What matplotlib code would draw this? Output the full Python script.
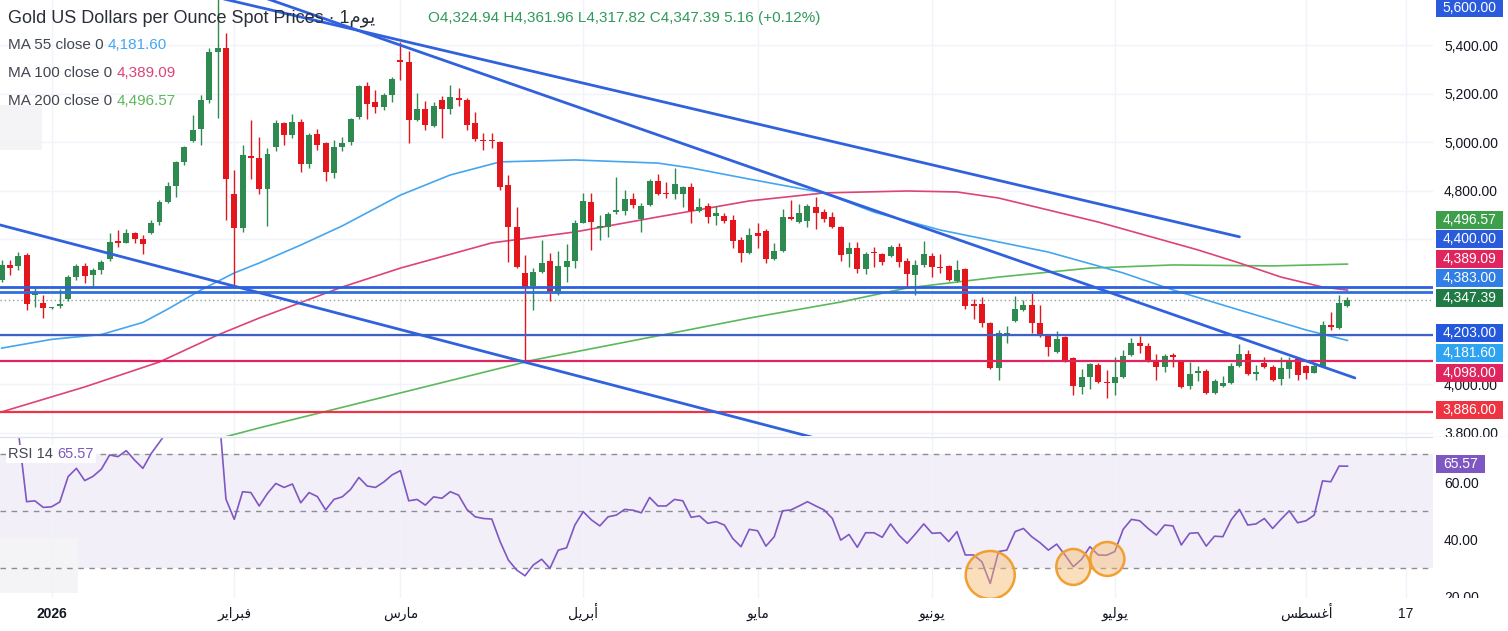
import numpy as np
import matplotlib
matplotlib.use("Agg")
import matplotlib.pyplot as plt
from matplotlib.patches import Rectangle, Ellipse
from matplotlib.lines import Line2D
from matplotlib import transforms

plt.rcParams['font.family'] = ['Liberation Sans', 'DejaVu Sans']

# ---- daily candles ----
opens = [4431, 4493, 4490, 4534, 4368, 4337, 4314, 4324, 4353, 4442,
         4489, 4450, 4472, 4516, 4592, 4585, 4626, 4600, 4623, 4669,
         4754, 4820, 4916, 5006, 5052, 5173, 5370, 5389, 4784, 4647,
         4944, 4933, 4806, 4981, 5080, 5029, 5084, 4909, 5033, 4995,
         4871, 4981, 4999, 5102, 5231, 5165, 5146, 5194, 5338, 5331,
         5091, 5135, 5066, 5173, 5135, 5182, 5173, 5080, 5006, 5006,
         5001, 4823, 4648, 4458, 4408, 4465, 4509, 4373, 4486, 4509,
         4667, 4754, 4647, 4648, 4713, 4716, 4764, 4681, 4740, 4839,
         4791, 4786, 4786, 4816, 4716, 4736, 4695, 4696, 4678, 4596,
         4544, 4623, 4634, 4516, 4552, 4689, 4672, 4676, 4733, 4710,
         4689, 4648, 4538, 4562, 4475, 4548, 4538, 4530, 4568, 4511,
         4452, 4493, 4530, 4486, 4489, 4428, 4475, 4332, 4332, 4255,
         4067, 4200, 4263, 4307, 4328, 4255, 4204, 4135, 4195, 4108,
         3991, 4030, 4080, 4012, 4005, 4032, 4122, 4173, 4159, 4101,
         4074, 4122, 4098, 3994, 4049, 4057, 3966, 3994, 4005, 4076,
         4126, 4045, 4090, 4074, 4021, 4063, 4104, 4076, 4049, 4074,
         4245, 4232, 4324.94]
highs = [4513, 4513, 4548, 4541, 4397, 4369, 4318, 4392, 4452, 4497,
         4500, 4479, 4513, 4623, 4637, 4640, 4630, 4617, 4678, 4761,
         4836, 4923, 4985, 5111, 5194, 5386, 5595, 5448, 4885, 4988,
         5091, 5022, 4974, 5091, 5084, 5114, 5094, 5039, 5054, 5001,
         5008, 5022, 5098, 5235, 5249, 5214, 5203, 5267, 5414, 5375,
         5201, 5171, 5166, 5190, 5235, 5221, 5180, 5122, 5036, 5036,
         5004, 4864, 4733, 4534, 4482, 4596, 4541, 4551, 4579, 4678,
         4791, 4791, 4699, 4713, 4857, 4802, 4791, 4747, 4846, 4867,
         4836, 4891, 4819, 4832, 4768, 4750, 4736, 4706, 4699, 4610,
         4644, 4665, 4640, 4585, 4722, 4761, 4744, 4744, 4775, 4722,
         4713, 4654, 4589, 4589, 4548, 4568, 4544, 4575, 4582, 4520,
         4513, 4593, 4541, 4538, 4493, 4513, 4479, 4351, 4362, 4259,
         4225, 4241, 4365, 4348, 4379, 4328, 4208, 4222, 4200, 4112,
         4063, 4090, 4087, 4060, 4112, 4142, 4190, 4200, 4170, 4126,
         4126, 4129, 4101, 4094, 4076, 4063, 4021, 4035, 4087, 4167,
         4142, 4080, 4115, 4080, 4112, 4115, 4112, 4080, 4087, 4263,
         4300, 4369, 4361.96]
lows = [4424, 4452, 4472, 4307, 4321, 4273, 4310, 4314, 4346, 4431,
        4420, 4406, 4456, 4511, 4568, 4582, 4582, 4538, 4621, 4658,
        4747, 4775, 4905, 5001, 4988, 5160, 5098, 4678, 4404, 4630,
        4846, 4786, 4654, 4964, 4988, 5015, 4878, 4891, 4967, 4841,
        4850, 4964, 4988, 5094, 5094, 5118, 5132, 5166, 5256, 4995,
        5088, 5050, 5061, 5015, 5116, 5149, 5050, 5006, 4967, 4974,
        4802, 4507, 4479, 4100, 4307, 4458, 4346, 4369, 4424, 4479,
        4665, 4555, 4596, 4610, 4703, 4699, 4729, 4630, 4738, 4782,
        4768, 4764, 4733, 4667, 4713, 4665, 4658, 4665, 4562, 4507,
        4538, 4562, 4500, 4513, 4548, 4678, 4665, 4648, 4640, 4672,
        4644, 4511, 4483, 4458, 4456, 4486, 4493, 4527, 4483, 4401,
        4369, 4486, 4445, 4458, 4428, 4424, 4310, 4269, 4239, 4063,
        4019, 4173, 4259, 4304, 4214, 4197, 4118, 4131, 4094, 3957,
        3961, 3980, 4005, 3943, 3957, 4025, 4118, 4129, 4094, 4019,
        4053, 4071, 3984, 3980, 4016, 3961, 3961, 3988, 4002, 4074,
        4039, 4019, 4067, 4016, 3998, 4025, 4019, 4021, 4046, 4071,
        4225, 4229, 4317.82]
closes = [4493, 4482, 4530, 4332, 4379, 4314, 4316, 4331, 4445, 4489,
          4447, 4472, 4504, 4586, 4582, 4626, 4599, 4578, 4667, 4751,
          4819, 4916, 4978, 5050, 5173, 5370, 5389, 4848, 4647, 4946,
          4934, 4806, 4951, 5080, 5029, 5084, 4909, 5029, 4988, 4875,
          4981, 4997, 5094, 5231, 5157, 5146, 5194, 5258, 5330, 5091,
          5135, 5070, 5149, 5135, 5187, 5173, 5070, 5012, 5004, 5004,
          4816, 4648, 4486, 4404, 4465, 4502, 4376, 4489, 4509, 4667,
          4757, 4672, 4650, 4702, 4720, 4764, 4740, 4738, 4839, 4786,
          4786, 4825, 4816, 4716, 4733, 4692, 4706, 4676, 4593, 4541,
          4617, 4612, 4516, 4552, 4689, 4681, 4709, 4736, 4709, 4681,
          4648, 4534, 4562, 4475, 4538, 4541, 4507, 4568, 4507, 4456,
          4493, 4538, 4483, 4479, 4431, 4472, 4324, 4324, 4255, 4067,
          4211, 4214, 4310, 4328, 4252, 4204, 4153, 4186, 4101, 3994,
          4030, 4085, 4012, 4005, 4030, 4118, 4173, 4159, 4098, 4071,
          4118, 4115, 3991, 4043, 4057, 3966, 4016, 4005, 4076, 4126,
          4043, 4047, 4074, 4019, 4067, 4101, 4039, 4049, 4076, 4245,
          4236, 4337, 4347.39]

# moving averages (bar index, value)
ma55_idx = [0, 6, 12, 17, 20, 24, 28, 31, 36, 41, 48, 54, 60, 69, 79, 83, 90,
            99, 105, 113, 120, 126, 135, 141, 149, 157, 162]
ma55_val = [4150, 4186, 4206, 4256, 4311, 4390, 4460, 4501, 4575, 4654, 4781,
            4864, 4918, 4926, 4913, 4893, 4847, 4790, 4711, 4637, 4588, 4546,
            4460, 4390, 4307, 4225, 4181.60]
ma100_idx = [0, 10, 19, 26, 31, 41, 48, 59, 69, 79, 90, 99, 109, 115, 120, 132,
             144, 149, 154, 159, 162]
ma100_val = [3887, 3990, 4093, 4204, 4274, 4402, 4480, 4584, 4629, 4691, 4757,
             4790, 4798, 4794, 4769, 4670, 4555, 4501, 4443, 4402, 4389.09]
ma200_idx = [27, 31, 64, 90, 101, 109, 120, 131, 141, 153, 162]
ma200_val = [3785, 3821, 4101, 4274, 4340, 4398, 4443, 4480, 4493, 4489, 4496.57]

# RSI 14, one value per bar
rsi = [79, 77, 78, 53.1, 53.4, 51.1, 51.3, 53.0, 61.9, 64.8,
       60.5, 62.0, 64.5, 69.5, 68.9, 71.0, 67.7, 64.8, 70.0, 74.0,
       78, 82, 84, 86, 88, 90, 90, 54.0, 46.9, 56.6,
       56.3, 51.6, 56.0, 59.5, 58.1, 59.3, 52.7, 56.3, 54.9, 50.2,
       53.9, 54.8, 57.4, 61.6, 58.6, 58.1, 60.0, 62.5, 64.0, 53.4,
       53.9, 51.9, 54.8, 54.3, 56.6, 55.4, 50.4, 47.8, 47.2, 47.0,
       39.1, 32.6, 29.1, 27.1, 30.9, 32.9, 29.7, 36.1, 36.9, 44.9,
       49.6, 46.7, 44.6, 47.8, 48.4, 50.4, 50.1, 49.2, 54.6, 51.6,
       51.6, 53.9, 53.4, 47.6, 48.1, 45.5, 46.1, 44.9, 40.2, 37.3,
       43.4, 42.9, 37.5, 40.8, 49.9, 50.2, 51.6, 53.1, 51.6, 50.2,
       47.2, 39.6, 41.6, 37.1, 42.2, 42.2, 40.6, 45.3, 41.4, 38.5,
       41.8, 45.3, 42.0, 42.2, 39.1, 42.6, 34.4, 34.4, 32.0, 24.4,
       35.6, 36.1, 42.6, 43.7, 40.8, 38.7, 36.1, 38.2, 34.4, 30.3,
       32.9, 37.3, 34.4, 34.3, 35.6, 43.4, 46.9, 46.4, 43.7, 41.4,
       44.9, 44.6, 37.9, 42.0, 42.2, 37.5, 41.0, 40.8, 46.7, 50.4,
       44.9, 45.3, 47.2, 43.7, 46.9, 49.9, 45.7, 46.4, 48.4, 60.4,
       60.1, 65.6, 65.57]

# drawn trendlines: (start bar, start price) -> (end bar, end price)
trend_x0 = [20, 25.5, -0.2]
trend_y0 = [5644, 5668, 4658]
trend_x1 = [149, 162.9, 98.3]
trend_y1 = [4609, 4027, 3776]

# horizontal levels
level_prices = [4400, 4383, 4203, 4098, 3886]
top_level = 5600

# x axis labels
month_pos = [6, 28, 48, 70, 91, 112, 134, 157, 169]
month_names = ['2026', 'فبراير', 'مارس', 'أبريل', 'مايو', 'يونيو', 'يوليو', 'أغسطس', '17']
price_ticks = [3800, 4000, 4200, 4400, 4600, 4800, 5000, 5200, 5400]
hidden_ticks = [4200, 4400, 4600]   # sit under the value tags
rsi_ticks = [20, 40, 60]

# simple Arabic shaping (matplotlib draws no ligatures / RTL)
FORMS = {
    'ي': ('\uFEF1', '\uFEF2', '\uFEF3', '\uFEF4'),
    'م': ('\uFEE1', '\uFEE2', '\uFEE3', '\uFEE4'),
    'ف': ('\uFED1', '\uFED2', '\uFED3', '\uFED4'),
    'ب': ('\uFE8F', '\uFE90', '\uFE91', '\uFE92'),
    'س': ('\uFEB1', '\uFEB2', '\uFEB3', '\uFEB4'),
    'ل': ('\uFEDD', '\uFEDE', '\uFEDF', '\uFEE0'),
    'ن': ('\uFEE5', '\uFEE6', '\uFEE7', '\uFEE8'),
    'غ': ('\uFECD', '\uFECE', '\uFECF', '\uFED0'),
    'ط': ('\uFEC1', '\uFEC2', '\uFEC3', '\uFEC4'),
    'و': ('\uFEED', '\uFEEE', None, None),
    'ر': ('\uFEAD', '\uFEAE', None, None),
    'ا': ('\uFE8D', '\uFE8E', None, None),
    'أ': ('\uFE83', '\uFE84', None, None),
}


def shape(word):
    if not any(ch in FORMS for ch in word):
        return word
    out = []
    for k, ch in enumerate(word):
        f = FORMS.get(ch)
        if f is None:
            out.append(ch)
            continue
        prev = word[k - 1] if k > 0 else None
        nxt = word[k + 1] if k < len(word) - 1 else None
        jp = prev in FORMS and FORMS[prev][2] is not None
        jn = nxt in FORMS and f[2] is not None
        if jp and jn:
            out.append(f[3])
        elif jp:
            out.append(f[1])
        elif jn:
            out.append(f[2])
        else:
            out.append(f[0])
    return ''.join(reversed(out))


W, H = 1508, 631
fig = plt.figure(figsize=(W / 100, H / 100), dpi=100)
fig.patch.set_facecolor('white')

plot_w = 1433 / W
ax = fig.add_axes([0, 1 - 436 / H, plot_w, 436 / H])
ax2 = fig.add_axes([0, 1 - 598 / H, plot_w, 161 / H])

xmin, xmax = -0.2, 172.3
for a in (ax, ax2):
    a.set_xlim(xmin, xmax)
    for s in a.spines.values():
        s.set_visible(False)
    a.set_xticks(month_pos)
    a.grid(True, axis='x', color='#f0f3fa', lw=1, zorder=0)
    a.set_axisbelow(True)

ax.set_ylim(3787.6, 5585.6)
ax2.set_ylim(19.3, 75.8)

ax.grid(True, axis='y', color='#f0f3fa', lw=1)

up_c, dn_c = '#2e8a50', '#e3161e'
o = np.array(opens); c = np.array(closes); h = np.array(highs); l = np.array(lows)
idx = np.arange(len(o))
cols = np.where(c >= o, up_c, dn_c)

# moving averages
ax.plot(ma200_idx, ma200_val, color='#5cb85c', lw=1.2, zorder=2)
ax.plot(ma100_idx, ma100_val, color='#dd4377', lw=1.2, zorder=2)
ax.plot(ma55_idx, ma55_val, color='#45a6f0', lw=1.2, zorder=2)

# candles
ax.vlines(idx, l, h, colors=cols, lw=1, zorder=3)
ax.bar(idx, np.maximum(np.abs(c - o), 5), bottom=np.minimum(o, c), width=0.72,
       color=cols, lw=0, zorder=3)

# horizontal levels
lvl_colors = ['#2f5fdc', '#2f6fe0', '#3d62c4', '#e0245e', '#ee3344']
lvl_widths = [2, 2, 1.6, 1.6, 1.6]
for p, col, lw in zip(level_prices, lvl_colors, lvl_widths):
    ax.axhline(p, color=col, lw=lw, zorder=4)
ax.axhline(closes[-1], color='#93a39a', lw=1, ls=(0, (1, 2)), zorder=2)

# trendlines
for x0, y0, x1, y1 in zip(trend_x0, trend_y0, trend_x1, trend_y1):
    ax.plot([x0, x1], [y0, y1], color='#3162dd', lw=2, zorder=4, solid_capstyle='round')

# price axis
ax.yaxis.tick_right()
ax.set_yticks(price_ticks)
ax.set_yticklabels(["" if v in hidden_ticks else f"{v:,.2f}" for v in price_ticks])
ax.tick_params(axis='y', length=0, pad=8, labelsize=10, labelcolor='#131722')
ax.tick_params(axis='x', length=0, labelbottom=False)

# right-hand value tags (stacked like the platform does)
tag_text = [f"{top_level:,.2f}", f"{ma200_val[-1]:,.2f}", f"{level_prices[0]:,.2f}",
            f"{ma100_val[-1]:,.2f}", f"{level_prices[1]:,.2f}", f"{closes[-1]:,.2f}",
            f"{level_prices[2]:,.2f}", f"{ma55_val[-1]:,.2f}", f"{level_prices[3]:,.2f}",
            f"{level_prices[4]:,.2f}"]
tag_colors = ['#2a5bdc', '#3e9f4b', '#2a5bdc', '#e0245e', '#2f7fe6', '#1f7a45',
              '#2459de', '#2ea3f2', '#e0245e', '#ef3340']
tag_slots = [5552, 4680, 4600, 4517, 4439, 4357, 4212, 4130, 4047, 3895]
tr = transforms.blended_transform_factory(ax.transAxes, ax.transData)
tag_h = 74
for t, col, y in zip(tag_text, tag_colors, tag_slots):
    ax.add_patch(Rectangle((1.002, y - tag_h / 2), 0.047, tag_h, transform=tr,
                           facecolor=col, edgecolor='none', clip_on=False, zorder=10))
    ax.text(1.0255, y, t, transform=tr, ha='center', va='center', color='white',
            fontsize=10, clip_on=False, zorder=11)

# ---- RSI pane ----
ax2.axhspan(30, 70, color='#7e57c2', alpha=0.09, lw=0, zorder=0)
for v in (70, 50, 30):
    ax2.axhline(v, color='#8a8d96', lw=1, ls=(0, (4, 4)), zorder=1)
ax2.plot(idx, rsi, color='#7e57c2', lw=1.2, zorder=3)

circ_x = [119.0, 129.0, 133.1]
circ_y = [27.4, 30.2, 33.0]
circ_w = [5.9, 4.1, 4.1]
circ_h = [16.8, 12.6, 11.9]
for x, y, w, hh in zip(circ_x, circ_y, circ_w, circ_h):
    ax2.add_patch(Ellipse((x, y), w, hh, facecolor=(0.97, 0.72, 0.42, 0.45),
                          edgecolor='#f0a030', lw=1.8, zorder=4))

ax2.yaxis.tick_right()
ax2.set_yticks(rsi_ticks)
ax2.set_yticklabels([f"{v:.2f}" for v in rsi_ticks])
ax2.tick_params(axis='y', length=0, pad=8, labelsize=10, labelcolor='#131722')
ax2.set_xticklabels([shape(m) for m in month_names])
ax2.tick_params(axis='x', length=0, pad=14.5, labelsize=10, labelcolor='#131722')
for k, lab in enumerate(ax2.get_xticklabels()):
    lab.set_va('baseline')
    if k == 0:
        lab.set_fontweight('bold')

tr2 = transforms.blended_transform_factory(ax2.transAxes, ax2.transData)
ax2.add_patch(Rectangle((1.002, rsi[-1] + 0.8 - 3.1), 0.034, 6.2, transform=tr2,
                        facecolor='#7e57c2', edgecolor='none', clip_on=False, zorder=10))
ax2.text(1.019, rsi[-1] + 0.8, f"{rsi[-1]:.2f}", transform=tr2, ha='center',
         va='center', color='white', fontsize=10, clip_on=False, zorder=11)

# faint legend shadows
ax.add_patch(Rectangle((0, (436 - 150) / 436), 42 / 1433, 45 / 436, transform=ax.transAxes,
                       facecolor='#f4f4f6', edgecolor='none', zorder=0.5))
ax2.add_patch(Rectangle((0, 5 / 161), 78 / 1433, 55 / 161, transform=ax2.transAxes,
                        facecolor='#f4f4f6', edgecolor='none', zorder=0.5))

# pane separator and axis-label masks
fig.add_artist(Line2D([0, 1], [1 - 436.5 / H, 1 - 436.5 / H], transform=fig.transFigure,
                      color='#e0e3eb', lw=1))
fig.add_artist(Rectangle((plot_w, 1 - 447 / H), 1 - plot_w, 10 / H, transform=fig.transFigure,
                         facecolor='white', edgecolor='none', zorder=20))
fig.add_artist(Rectangle((plot_w, 1 - 606 / H), 1 - plot_w, 8 / H, transform=fig.transFigure,
                         facecolor='white', edgecolor='none', zorder=20))


# ---- legends ----
def px(x, y):
    return x / W, 1 - y / H


fig.text(*px(8, 18), "Gold US Dollars per Ounce Spot Prices \u00b7 1" + shape('يوم'),
         fontsize=13, color='#2a2e39', va='center', ha='left')
fig.text(*px(428, 18),
         f"O{opens[-1]:,.2f} H{highs[-1]:,.2f} L{lows[-1]:,.2f} C{closes[-1]:,.2f} 5.16 (+0.12%)",
         fontsize=11, color='#2f9a5a', va='center', ha='left')

ma_labels = ["MA 55 close 0 ", "MA 100 close 0 ", "MA 200 close 0 "]
ma_last = [ma55_val[-1], ma100_val[-1], ma200_val[-1]]
ma_colors = ['#45a6f0', '#dd4377', '#5cb85c']
for k, (lab, val, col) in enumerate(zip(ma_labels, ma_last, ma_colors)):
    lt = fig.text(*px(8, 45 + 28 * k), lab, fontsize=11, color='#434651',
                  va='center', ha='left')
    ax.annotate(f"{val:,.2f}", xy=(1, 0.5), xycoords=lt, va='center', ha='left',
                fontsize=11, color=col, annotation_clip=False)

rl = ax2.text(8 / 1433, 0.893, "RSI 14 ", transform=ax2.transAxes, fontsize=10.5,
              color='#434651', va='center', ha='left', zorder=6,
              bbox=dict(facecolor='white', edgecolor='none', pad=1.5))
ax2.annotate(f"{rsi[-1]:.2f}", xy=(1, 0.5), xycoords=rl, va='center', ha='left',
             fontsize=10.5, color='#7e57c2', zorder=6,
             bbox=dict(facecolor='white', edgecolor='none', pad=1.5))

fig.savefig('out.png', dpi=100, facecolor='white')
